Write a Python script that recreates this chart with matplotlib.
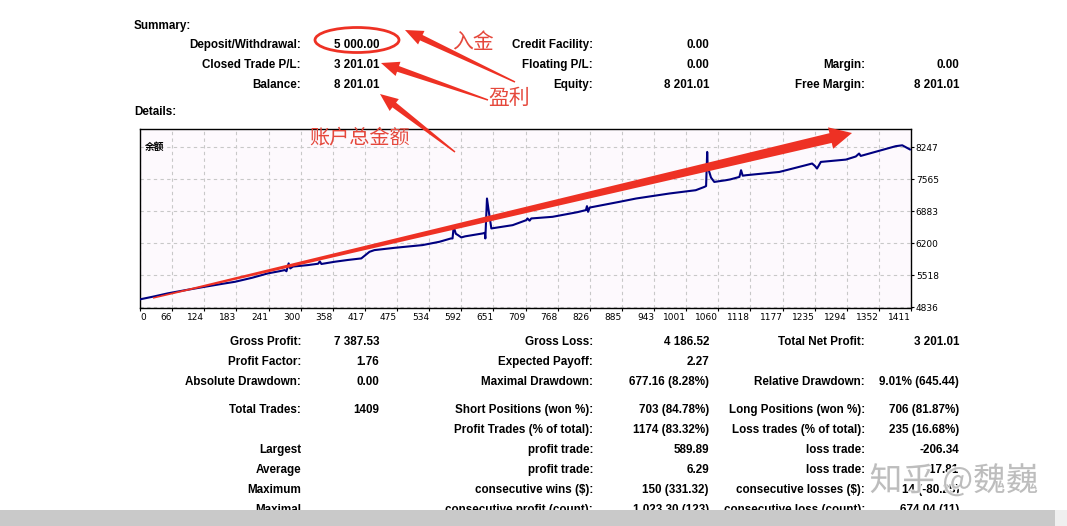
import numpy as np
import matplotlib
matplotlib.use('Agg')
import matplotlib.pyplot as plt
from matplotlib.patches import Polygon, Ellipse, Rectangle
import matplotlib.patheffects as pe

plt.rcParams['font.family'] = ['Liberation Sans', 'Noto Sans CJK SC', 'DejaVu Sans']

W, H = 1067, 526

# кривая баланса (номер сделки, баланс)
trade_no = [0, 25, 51, 85, 119, 150, 174, 205, 234, 255, 265, 268, 272, 275, 280,
            307, 326, 329, 332, 356, 380, 405, 420, 429, 466, 517, 548, 569, 572,
            574, 578, 582, 588, 595, 627, 631, 632, 635, 638, 643, 682, 707, 709,
            713, 716, 755, 800, 816, 818, 820, 823, 877, 908, 969, 1017, 1033, 1036,
            1038, 1039, 1045, 1051, 1072, 1080, 1097, 1100, 1103, 1109, 1170, 1218,
            1230, 1235, 1239, 1246, 1292, 1310, 1316, 1319, 1383, 1395, 1409]
balance = [5000, 5060, 5128, 5200, 5269, 5330, 5375, 5460, 5554, 5600, 5625, 5600, 5768, 5660, 5700,
           5731, 5760, 5810, 5755, 5802, 5840, 5874, 6015, 6051, 6100, 6158, 6229, 6300, 6300,
           6548, 6400, 6371, 6322, 6345, 6407, 6420, 6300, 7153, 6900, 6514, 6584, 6691, 6727,
           6680, 6727, 6762, 6860, 6905, 6990, 6869, 6960, 7081, 7153, 7260, 7330, 7401, 7420,
           8147, 7827, 7600, 7507, 7543, 7560, 7614, 7757, 7640, 7650, 7720, 7863,
           7900, 7850, 7793, 7934, 7984, 8050, 8113, 8062, 8270, 8289, 8201]

x_labels = ['0', '66', '124', '183', '241', '300', '358', '417', '475', '534', '592', '651',
            '709', '768', '826', '885', '943', '1001', '1060', '1118', '1177', '1235',
            '1294', '1352', '1411']
y_ticks = [4836, 5518, 6200, 6883, 7565, 8247]

# Summary
sum_labels1 = ['Deposit/Withdrawal:', 'Closed Trade P/L:', 'Balance:']
sum_values1 = ['5 000.00', '3 201.01', '8 201.01']
sum_labels2 = ['Credit Facility:', 'Floating P/L:', 'Equity:']
sum_values2 = ['0.00', '0.00', '8 201.01']
sum_labels3 = ['', 'Margin:', 'Free Margin:']
sum_values3 = ['', '0.00', '8 201.01']

# Details (под графиком)
det_labels1 = ['Gross Profit:', 'Profit Factor:', 'Absolute Drawdown:', 'Total Trades:', '',
               'Largest', 'Average', 'Maximum', 'Maximal']
det_values1 = ['7 387.53', '1.76', '0.00', '1409', '', '', '', '', '']
det_labels2 = ['Gross Loss:', 'Expected Payoff:', 'Maximal Drawdown:', 'Short Positions (won %):',
               'Profit Trades (% of total):', 'profit trade:', 'profit trade:',
               'consecutive wins ($):', 'consecutive profit (count):']
det_values2 = ['4 186.52', '2.27', '677.16 (8.28%)', '703 (84.78%)', '1174 (83.32%)',
               '589.89', '6.29', '150 (331.32)', '1 023.30 (123)']
det_labels3 = ['Total Net Profit:', '', 'Relative Drawdown:', 'Long Positions (won %):',
               'Loss trades (% of total):', 'loss trade:', 'loss trade:',
               'consecutive losses ($):', 'consecutive loss (count):']
det_values3 = ['3 201.01', '', '9.01% (645.44)', '706 (81.87%)', '235 (16.68%)',
               '-206.34', '-17.81', '14 (-80.25)', '674.04 (11)']

RED = '#ee3124'

fig = plt.figure(figsize=(W / 100, H / 100), dpi=100)
fig.patch.set_facecolor('white')


def fx(x):
    return x / W


def fy(y):
    return 1 - y / H


def put(x, y, s, ha='right', **kw):
    fig.text(fx(x), fy(y), s, ha=ha, va='baseline', fontsize=8.4,
             fontweight='bold', color='black', **kw)


# ---- Summary блок ----
put(134, 29, 'Summary:', ha='left')
for i, base in enumerate([48, 68, 88]):
    put(301, base, sum_labels1[i])
    put(379, base, sum_values1[i])
    put(593, base, sum_labels2[i])
    put(709, base, sum_values2[i])
    put(865, base, sum_labels3[i])
    put(959, base, sum_values3[i])
put(134, 115, 'Details:', ha='left')

# ---- график баланса ----
ax = fig.add_axes([fx(140), fy(308), (911 - 140) / W, (308 - 129) / H])
ax.set_facecolor('#fdf9fd')
ax.plot(trade_no, balance, color='#000080', lw=1.5, zorder=3)
ax.set_xlim(0, 1411)
ax.set_ylim(4815, 8637)
xt = np.linspace(0, 1411, len(x_labels))
ax.set_xticks(xt)
ax.set_xticklabels(x_labels, fontsize=6.5, family=['Liberation Sans Narrow', 'DejaVu Sans'])
for i, t in enumerate(ax.get_xticklabels()):
    t.set_ha('left' if i == 0 else 'right')
ax.set_yticks(y_ticks)
ax.set_yticklabels([str(v) for v in y_ticks], fontsize=6.5,
                   family=['Liberation Sans Narrow', 'DejaVu Sans'])
ax.yaxis.tick_right()
ax.tick_params(axis='both', length=2, width=0.8, pad=1.5)
ax.grid(True, color='#c8c8c8', ls=(0, (3, 3)), lw=0.8)
for s in ax.spines.values():
    s.set_linewidth(1)
ax.text(0.006, 0.93, '余额', transform=ax.transAxes, fontsize=7, fontweight='bold',
        family=['Noto Sans CJK SC', 'DejaVu Sans'], va='top', ha='left')

# ---- Details блок ----
for i, base in enumerate([345, 365, 385, 413, 433, 453, 473, 493, 513]):
    put(301, base, det_labels1[i])
    put(379, base, det_values1[i])
    put(593, base, det_labels2[i])
    put(709, base, det_values2[i])
    put(865, base, det_labels3[i])
    put(959, base, det_values3[i])

# серая полоса внизу скриншота
fig.add_artist(Rectangle((0, 0), fx(1055), fy(510), transform=fig.transFigure,
                         fc='#c9c9c9', ec='none', zorder=20))
fig.add_artist(Rectangle((fx(1055), 0), 1 - fx(1055), fy(510), transform=fig.transFigure,
                         fc='#efefef', ec='none', zorder=20))


# ---- красные пометки ----
def red_arrow(tail, tip, w_tail, w_shaft, w_head, l_head):
    tail = np.array(tail, float)
    tip = np.array(tip, float)
    d = tip - tail
    u = d / np.hypot(*d)
    n = np.array([-u[1], u[0]])
    base = tip - u * l_head
    pts = [tail + n * w_tail / 2, base + n * w_shaft / 2, base + n * w_head / 2, tip,
           base - n * w_head / 2, base - n * w_shaft / 2, tail - n * w_tail / 2]
    pts = [(fx(p[0]), fy(p[1])) for p in pts]
    fig.add_artist(Polygon(pts, closed=True, transform=fig.transFigure,
                           fc=RED, ec='none', zorder=10))


red_arrow((153, 298), (852, 133), 1.5, 10, 22, 22)
red_arrow((515, 82), (405, 30), 1.5, 6, 15, 18)
red_arrow((488, 100), (381, 63), 1.5, 6, 15, 18)
red_arrow((455, 152), (380, 94), 1.5, 6, 15, 18)

fig.add_artist(Ellipse((fx(357), fy(40)), 84 / W, 25 / H, transform=fig.transFigure,
                       fill=False, ec=RED, lw=2, zorder=10))

cjk = ['Noto Sans CJK SC', 'DejaVu Sans']
fig.text(fx(473), fy(42), '入金', color='#e5483c', fontsize=15, family=cjk,
         ha='center', va='center', zorder=11)
fig.text(fx(509), fy(98), '盈利', color='#e5483c', fontsize=15, family=cjk,
         ha='center', va='center', zorder=11)
fig.text(fx(360), fy(138), '账户总金额', color='#e5483c', fontsize=14.5, family=cjk,
         ha='center', va='center', zorder=11)

# водяной знак
fig.text(fx(954), fy(481), '知乎 @魏巍', color='#b4b4b4', fontsize=23.5, family=cjk,
         ha='center', va='center', alpha=0.85, zorder=12,
         path_effects=[pe.withStroke(linewidth=2, foreground='white')])

fig.savefig('out.png', dpi=100)
